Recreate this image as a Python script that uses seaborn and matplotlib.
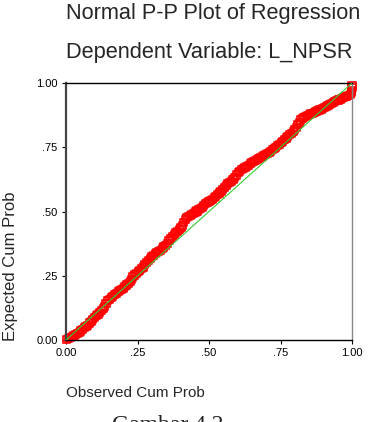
import matplotlib
matplotlib.use("Agg")
import matplotlib.pyplot as plt
import seaborn as sns
import pandas as pd

# Observed vs expected cumulative probabilities
observed = [0.003, 0.010, 0.016, 0.022, 0.028, 0.034, 0.040, 0.046, 0.052, 0.058,
            0.064, 0.070, 0.076, 0.082, 0.088, 0.094, 0.100, 0.106, 0.112, 0.118,
            0.124, 0.130, 0.135, 0.140, 0.146, 0.152, 0.158, 0.164, 0.170, 0.176,
            0.182, 0.188, 0.194, 0.200, 0.206, 0.212, 0.218, 0.224, 0.229, 0.234,
            0.240, 0.246, 0.252, 0.258, 0.264, 0.270, 0.276, 0.282, 0.288, 0.294,
            0.300, 0.306, 0.312, 0.318, 0.324, 0.330, 0.336, 0.342, 0.348, 0.354,
            0.360, 0.366, 0.372, 0.378, 0.384, 0.390, 0.396, 0.402, 0.407, 0.412,
            0.417, 0.422, 0.428, 0.434, 0.440, 0.446, 0.452, 0.458, 0.464, 0.470,
            0.476, 0.482, 0.488, 0.494, 0.500, 0.506, 0.512, 0.518, 0.524, 0.530,
            0.536, 0.542, 0.548, 0.554, 0.560, 0.566, 0.572, 0.578, 0.584, 0.590,
            0.596, 0.602, 0.608, 0.614, 0.620, 0.626, 0.632, 0.638, 0.644, 0.650,
            0.656, 0.662, 0.668, 0.674, 0.680, 0.686, 0.692, 0.698, 0.704, 0.710,
            0.716, 0.722, 0.728, 0.734, 0.740, 0.746, 0.752, 0.758, 0.764, 0.770,
            0.776, 0.782, 0.788, 0.794, 0.800, 0.805, 0.810, 0.815, 0.820, 0.826,
            0.832, 0.838, 0.844, 0.850, 0.856, 0.862, 0.868, 0.874, 0.880, 0.886,
            0.892, 0.898, 0.904, 0.910, 0.916, 0.922, 0.928, 0.934, 0.940, 0.946,
            0.952, 0.958, 0.964, 0.970, 0.976, 0.982, 0.988, 0.994, 0.997, 0.999,
            1.000, 1.000]
expected = [0.002, 0.006, 0.010, 0.013, 0.016, 0.021, 0.025, 0.030, 0.035, 0.041,
            0.047, 0.052, 0.058, 0.066, 0.073, 0.080, 0.088, 0.094, 0.100, 0.106,
            0.113, 0.122, 0.132, 0.142, 0.152, 0.159, 0.164, 0.170, 0.176, 0.182,
            0.189, 0.194, 0.198, 0.202, 0.208, 0.214, 0.220, 0.228, 0.236, 0.245,
            0.253, 0.260, 0.266, 0.271, 0.277, 0.284, 0.292, 0.302, 0.310, 0.318,
            0.325, 0.330, 0.336, 0.340, 0.345, 0.350, 0.356, 0.362, 0.369, 0.377,
            0.386, 0.395, 0.404, 0.412, 0.417, 0.422, 0.430, 0.438, 0.447, 0.458,
            0.468, 0.476, 0.482, 0.486, 0.490, 0.494, 0.498, 0.502, 0.506, 0.511,
            0.517, 0.523, 0.530, 0.536, 0.540, 0.544, 0.548, 0.553, 0.559, 0.566,
            0.572, 0.578, 0.585, 0.593, 0.601, 0.608, 0.613, 0.618, 0.625, 0.634,
            0.642, 0.650, 0.657, 0.663, 0.667, 0.670, 0.674, 0.679, 0.685, 0.690,
            0.694, 0.698, 0.702, 0.706, 0.710, 0.714, 0.718, 0.722, 0.726, 0.730,
            0.735, 0.740, 0.745, 0.750, 0.756, 0.762, 0.768, 0.774, 0.780, 0.786,
            0.792, 0.798, 0.804, 0.810, 0.818, 0.828, 0.838, 0.848, 0.856, 0.862,
            0.866, 0.870, 0.874, 0.877, 0.880, 0.883, 0.886, 0.889, 0.892, 0.895,
            0.898, 0.901, 0.904, 0.907, 0.911, 0.915, 0.919, 0.923, 0.927, 0.931,
            0.934, 0.937, 0.940, 0.943, 0.946, 0.949, 0.952, 0.956, 0.962, 0.972,
            0.982, 0.992]
ref_x = [0.0, 1.0]
ref_y = [0.0, 1.0]
tick_vals = [0.0, 0.25, 0.5, 0.75, 1.0]
tick_labels = ["0.00", ".25", ".50", ".75", "1.00"]

sns.set_style("white")
plt.rcParams["font.family"] = ["Liberation Sans", "DejaVu Sans"]

W, H = 370, 422
fig = plt.figure(figsize=(W / 100, H / 100), dpi=100)
ax = fig.add_axes([66 / W, (H - 340) / H, (352 - 66) / W, (340 - 83) / H])

df = pd.DataFrame({"obs": observed, "exp": expected})
sns.scatterplot(data=df, x="obs", y="exp", ax=ax, marker="s", s=26,
                facecolors="none", edgecolor="#ff0000", linewidth=1.2,
                clip_on=False, zorder=2)
ax.plot(ref_x, ref_y, color="#33cc33", lw=0.8, zorder=3)

ax.set_xlim(0, 1)
ax.set_ylim(0, 1)
ax.set_xticks(tick_vals)
ax.set_xticklabels(tick_labels)
ax.set_yticks(tick_vals)
ax.set_yticklabels(tick_labels)
ax.tick_params(axis="both", direction="out", length=3, width=0.8,
               labelsize=8, colors="black", pad=3,
               bottom=True, left=True)
ax.set_xlabel("")
ax.set_ylabel("")

ax.spines["left"].set_color("#444444")
ax.spines["left"].set_linewidth(1.6)
ax.spines["right"].set_color("#888888")
ax.spines["right"].set_linewidth(1.0)
ax.spines["top"].set_color("black")
ax.spines["top"].set_linewidth(1.0)
ax.spines["bottom"].set_color("black")
ax.spines["bottom"].set_linewidth(1.0)

def fy(py):
    return (H - py) / H

fig.text(66 / W, fy(19), "Normal P-P Plot of Regression", fontsize=15.7,
         ha="left", va="baseline")
fig.text(66 / W, fy(58), "Dependent Variable: L_NPSR", fontsize=15.7,
         ha="left", va="baseline")
fig.text(66 / W, fy(397), "Observed Cum Prob", fontsize=11,
         ha="left", va="baseline")
fig.text(11 / W, fy(266), "Expected Cum Prob", fontsize=12, rotation=90,
         ha="center", va="center")
fig.text(112 / W, fy(431), "Gambar 4.2", fontsize=17,
         family=["Liberation Serif", "DejaVu Serif"], ha="left", va="baseline")

fig.savefig("out.png", dpi=100)
